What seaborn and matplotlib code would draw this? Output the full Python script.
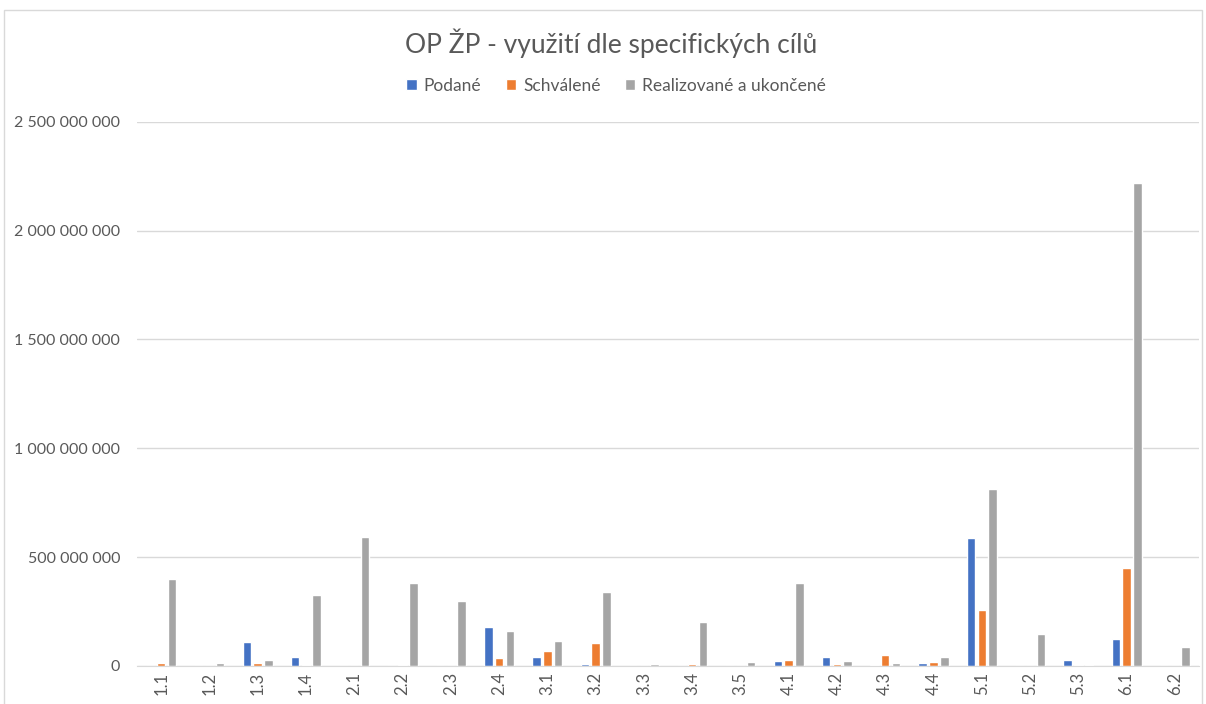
import pandas as pd
import matplotlib.pyplot as plt
import matplotlib.ticker as mticker
import seaborn as sns

# data
cile = ['1.1', '1.2', '1.3', '1.4', '2.1', '2.2', '2.3', '2.4', '3.1', '3.2', '3.3',
        '3.4', '3.5', '4.1', '4.2', '4.3', '4.4', '5.1', '5.2', '5.3', '6.1', '6.2']
podane = [0, 0, 109e6, 40e6, 0, 0, 0, 179e6, 40e6, 11e6, 0,
          0, 0, 23e6, 43e6, 6e6, 15e6, 589e6, 0, 26e6, 126e6, 0]
schvalene = [15e6, 0, 15e6, 6e6, 0, 6e6, 0, 37e6, 69e6, 104e6, 0,
             11e6, 0, 26e6, 11e6, 51e6, 18e6, 256e6, 0, 6e6, 448e6, 0]
realizovane = [398e6, 15e6, 26e6, 328e6, 594e6, 380e6, 299e6, 161e6, 115e6, 342e6, 8e6,
               204e6, 18e6, 380e6, 23e6, 15e6, 43e6, 814e6, 149e6, 6e6, 2217e6, 86e6]
series = ['Podané', 'Schválené', 'Realizované a ukončené']
colors = ['#4472C4', '#ED7D31', '#A5A5A5']

df = pd.DataFrame({'cil': cile, series[0]: podane, series[1]: schvalene, series[2]: realizovane})
df_long = df.melt(id_vars='cil', var_name='stav', value_name='castka')

sns.set_style('white')
plt.rcParams['font.family'] = ['Lato', 'DejaVu Sans']

fig = plt.figure(figsize=(12.06, 7.04), dpi=100)
ax = fig.add_axes([0.1136, 0.054, 0.8806, 0.773])

sns.barplot(data=df_long, x='cil', y='castka', hue='stav', hue_order=series,
            palette=colors, saturation=1, width=0.67, gap=0.21, ax=ax, legend=True)

ax.set_ylim(0, 2.5e9)
ax.set_xlim(-0.5, len(cile) - 0.5)
ax.yaxis.set_major_locator(mticker.MultipleLocator(5e8))
ax.yaxis.set_major_formatter(mticker.FuncFormatter(lambda v, p: f'{v:,.0f}'.replace(',', ' ')))
ax.grid(axis='y', color='#D9D9D9', linewidth=1)
ax.set_axisbelow(True)
ax.set_xlabel('')
ax.set_ylabel('')
ax.tick_params(axis='y', labelsize=11.5, colors='#595959', length=0, pad=12)
ax.tick_params(axis='x', labelsize=12, colors='#595959', length=0, pad=4, rotation=90)

for b in ['top', 'right', 'left']:
    ax.spines[b].set_visible(False)
ax.spines['bottom'].set_color('#D9D9D9')

ax.legend(loc='center', bbox_to_anchor=(0.511, 0.878), bbox_transform=fig.transFigure,
          ncol=3, frameon=False, fontsize=12.5, handlelength=0.6, handleheight=0.6,
          handletextpad=0.4, columnspacing=1.4, labelcolor='#595959')

fig.text(0.507, 0.938, 'OP ŽP - využití dle specifických cílů', ha='center', va='center',
         fontsize=19, color='#595959')

# outer chart frame
fig.patches.append(plt.Rectangle((0.003, -0.01), 0.994, 0.996, transform=fig.transFigure,
                                 fill=False, edgecolor='#D9D9D9', linewidth=1))

plt.savefig('out.png', dpi=100)
